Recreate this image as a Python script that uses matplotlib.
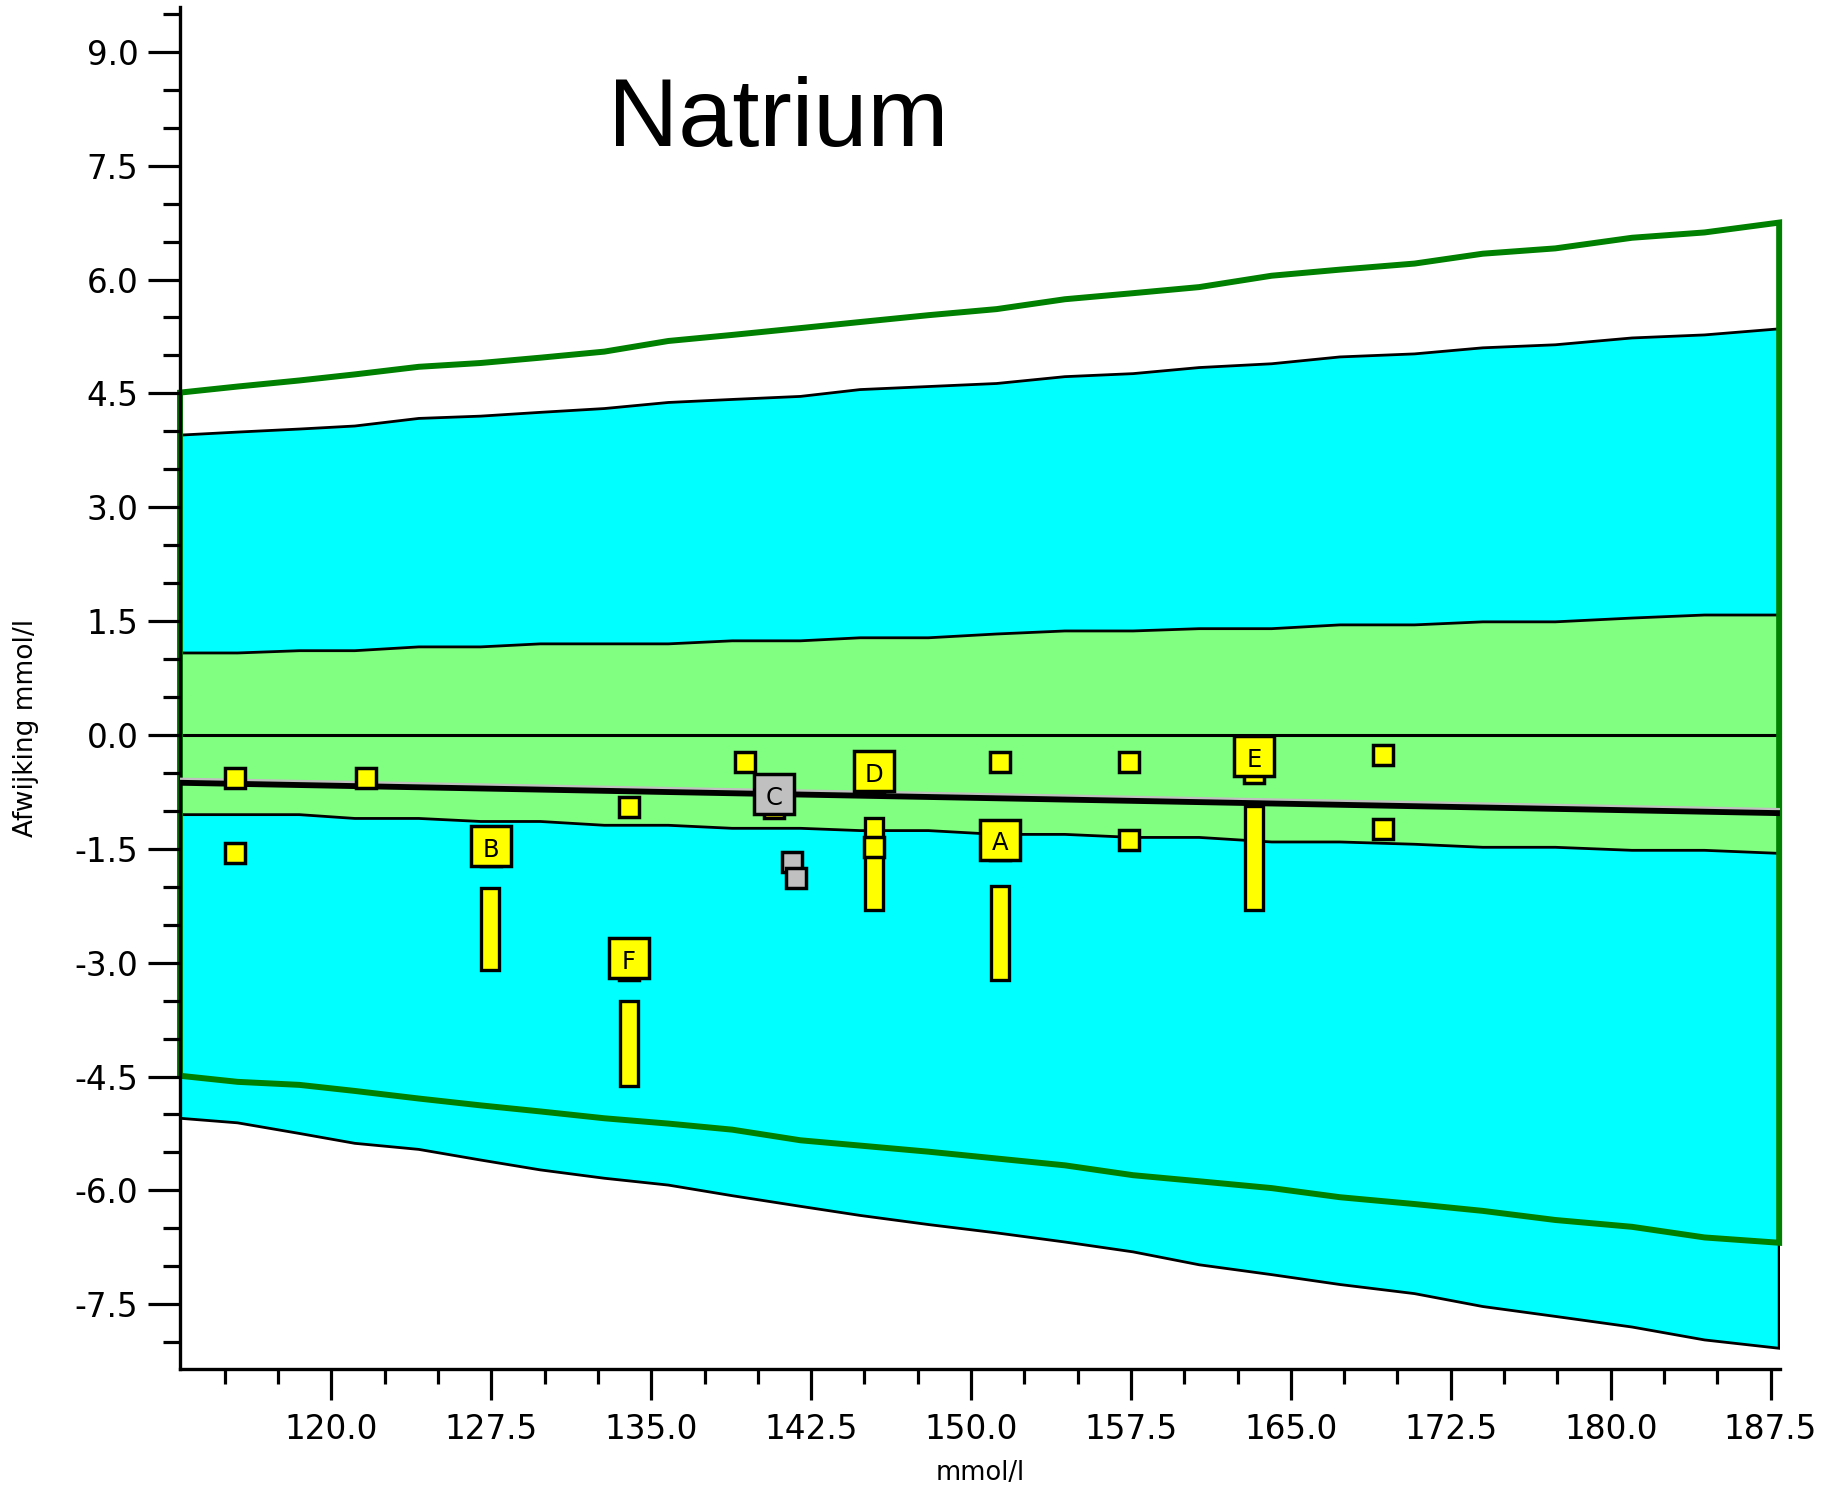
import numpy as np
import matplotlib
matplotlib.use("Agg")
import matplotlib.pyplot as plt
from matplotlib.ticker import MultipleLocator, FormatStrFormatter

# concentration grid (mmol/l) for the limit curves
conc = [112.9, 115.6, 118.5, 121.1, 124.1, 127.0, 129.8, 132.8, 135.8, 138.8,
        142.0, 144.8, 148.0, 151.2, 154.4, 157.6, 160.7, 164.1, 167.3, 170.8,
        174.0, 177.4, 181.0, 184.4, 187.9]

# total allowable error limits (green outline)
tea_upper = [4.51, 4.59, 4.67, 4.75, 4.85, 4.90, 4.97, 5.05, 5.19, 5.27,
             5.36, 5.44, 5.53, 5.61, 5.74, 5.82, 5.90, 6.05, 6.13, 6.21,
             6.34, 6.41, 6.55, 6.62, 6.75]
tea_lower = [-4.49, -4.57, -4.61, -4.69, -4.79, -4.88, -4.96, -5.05, -5.12, -5.20,
             -5.34, -5.41, -5.49, -5.58, -5.67, -5.80, -5.88, -5.97, -6.09, -6.18,
             -6.27, -6.39, -6.48, -6.62, -6.69]

# outer band (cyan)
cyan_upper = [3.95, 3.99, 4.03, 4.07, 4.17, 4.20, 4.25, 4.30, 4.38, 4.42,
              4.46, 4.55, 4.59, 4.63, 4.72, 4.76, 4.84, 4.89, 4.98, 5.02,
              5.10, 5.14, 5.23, 5.27, 5.35]
cyan_lower = [-5.05, -5.11, -5.25, -5.38, -5.46, -5.60, -5.73, -5.84, -5.93, -6.07,
              -6.21, -6.33, -6.45, -6.56, -6.68, -6.81, -6.98, -7.11, -7.24, -7.36,
              -7.53, -7.66, -7.80, -7.97, -8.08]

# inner band (light green)
green_upper = [1.08, 1.08, 1.11, 1.11, 1.16, 1.16, 1.20, 1.20, 1.20, 1.24,
               1.24, 1.28, 1.28, 1.33, 1.37, 1.37, 1.40, 1.40, 1.45, 1.45,
               1.49, 1.49, 1.54, 1.58, 1.58]
green_lower = [-1.05, -1.05, -1.05, -1.10, -1.10, -1.14, -1.14, -1.19, -1.19, -1.23,
               -1.23, -1.26, -1.26, -1.31, -1.31, -1.35, -1.35, -1.41, -1.41, -1.44,
               -1.48, -1.48, -1.52, -1.52, -1.56]

# regression line
reg_x = [112.9, 187.9]
reg_y = [-0.63, -1.03]

# single results
pt_x = [115.5, 121.6, 133.95, 139.4, 115.5, 145.45, 151.35, 157.4, 157.4, 169.3, 169.3]
pt_y = [-0.57, -0.57, -0.95, -0.36, -1.55, -1.47, -0.36, -0.36, -1.38, -0.27, -1.24]
grey_x = [141.6, 141.8]
grey_y = [-1.68, -1.88]

# results hidden behind the labelled boxes
hid_x = [151.35, 127.48, 140.75, 145.44, 163.28, 133.95]
hid_y = [-1.52, -1.60, -0.96, -0.62, -0.50, -3.09]

# labelled samples
lab = ["A", "B", "C", "D", "E", "F"]
lab_x = [151.35, 127.48, 140.75, 145.44, 163.28, 133.95]
lab_y = [-1.38, -1.46, -0.78, -0.48, -0.28, -2.94]
lab_col = ["#ffff00", "#ffff00", "#c0c0c0", "#ffff00", "#ffff00", "#ffff00"]

# ranges
bar_x = [127.45, 133.95, 145.44, 151.35, 163.28]
bar_lo = [-3.10, -4.63, -2.30, -3.23, -2.30]
bar_hi = [-2.02, -3.50, -1.09, -1.99, -0.94]

CYAN = "#00ffff"
LGREEN = "#80ff80"
DGREEN = "#008000"
YELLOW = "#ffff00"
GREY = "#c0c0c0"

plt.rcParams["font.family"] = ["DejaVu Sans"]
plt.rcParams["axes.unicode_minus"] = False

fig = plt.figure(figsize=(18.32, 14.85), dpi=100)
ax = fig.add_axes([180 / 1832, 1 - 1369 / 1485, 1600 / 1832, 1362 / 1485])

cx = np.array(conc)
# outer band
ax.fill(np.r_[cx, cx[::-1]], np.r_[cyan_upper, cyan_lower[::-1]],
        facecolor=CYAN, edgecolor="black", lw=2.0, zorder=1)
# inner band
ax.fill(np.r_[cx, cx[::-1]], np.r_[green_upper, green_lower[::-1]],
        facecolor=LGREEN, edgecolor="black", lw=2.0, zorder=1.1)
ax.hlines(0, cx[0], cx[-1], color="black", lw=2.2, zorder=1.2)
# allowable error outline
ax.fill(np.r_[cx, cx[::-1]], np.r_[tea_upper, tea_lower[::-1]],
        fill=False, edgecolor=DGREEN, lw=4.3, zorder=1.5, clip_on=False)

# ranges sit under the regression line
ax.bar(bar_x, np.array(bar_hi) - np.array(bar_lo), bottom=bar_lo, width=0.85,
       color=YELLOW, edgecolor="black", lw=2.4, zorder=2.8)

ax.plot(reg_x, np.array(reg_y) + 0.05, color=GREY, lw=2.0, zorder=3)
ax.plot(reg_x, reg_y, color="black", lw=4.2, zorder=3.1)

ax.plot(hid_x, hid_y, "s", ms=14.5, mfc=YELLOW, mec="black", mew=2.5, zorder=4)
ax.plot(pt_x, pt_y, "s", ms=15, mfc=YELLOW, mec="black", mew=2.5, zorder=4.1)
ax.plot(grey_x, grey_y, "s", ms=15, mfc=GREY, mec="black", mew=2.5, zorder=4.1)
for x, y, c, t in zip(lab_x, lab_y, lab_col, lab):
    ax.plot(x, y, "s", ms=29, mfc=c, mec="black", mew=2.5, zorder=4.5)
    ax.text(x, y - 0.05, t, ha="center", va="center", fontsize=17.5, zorder=5)

ax.set_xlim(112.9, 187.94)
ax.set_ylim(-8.353, 9.59)
for s in ["top", "right"]:
    ax.spines[s].set_visible(False)
for s in ["left", "bottom"]:
    ax.spines[s].set_linewidth(2.4)

ax.xaxis.set_major_locator(MultipleLocator(7.5))
ax.xaxis.set_minor_locator(MultipleLocator(2.5))
ax.yaxis.set_major_locator(MultipleLocator(1.5))
ax.yaxis.set_minor_locator(MultipleLocator(0.5))
ax.xaxis.set_major_formatter(FormatStrFormatter("%.1f"))
ax.yaxis.set_major_formatter(FormatStrFormatter("%.1f"))
ax.tick_params(axis="y", which="major", length=23, width=2.3, pad=7, labelsize=23.5)
ax.tick_params(axis="y", which="minor", length=12, width=2.3)
ax.tick_params(axis="x", which="major", length=22, width=2.3, pad=10, labelsize=23.5)
ax.tick_params(axis="x", which="minor", length=11, width=2.3)

ax.set_xlabel("mmol/l", fontsize=18.5, va="center")
ax.xaxis.set_label_coords(0.5, -0.076)
ax.set_ylabel("Afwijking mmol/l", fontsize=19, va="center", ha="center")
ax.yaxis.set_label_coords(-0.096, 0.471)

fig.text(778 / 1832, 1 - 146 / 1485, "Natrium", ha="center", va="baseline",
         fontsize=70, family=["Liberation Sans", "DejaVu Sans"])

fig.savefig("out.png", dpi=100)
